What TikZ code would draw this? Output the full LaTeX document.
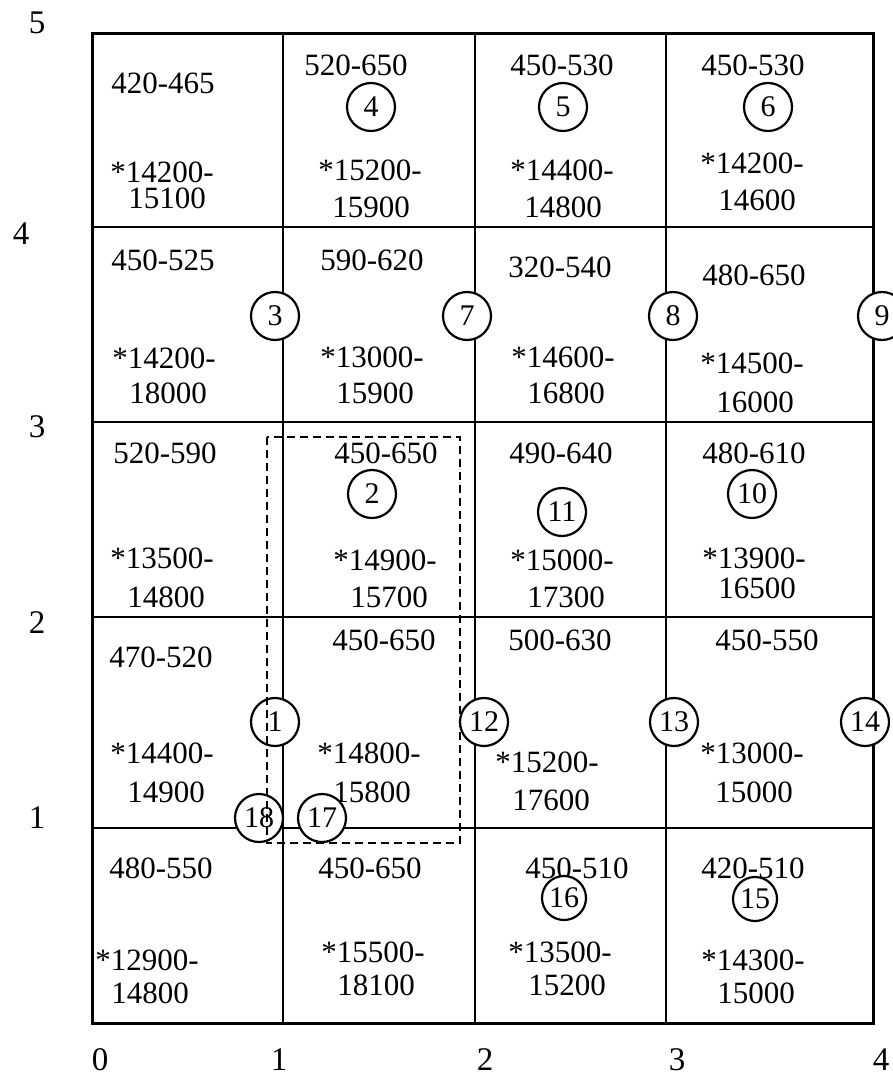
\documentclass[tikz,border=0pt]{standalone}
\usepackage{fontspec}
\setmainfont{Liberation Serif}
\begin{document}
\begin{tikzpicture}[x=1pt,y=-1pt,
  txt/.style={anchor=base,inner sep=0pt,font=\fontsize{31}{36}\selectfont},
  axl/.style={anchor=base,inner sep=0pt,font=\fontsize{33}{38}\selectfont},
  circ/.style={draw,circle,fill=white,line width=2.2pt,minimum size=48pt,inner sep=0pt,font=\fontsize{30}{34}\selectfont},
  grid/.style={line width=2.5pt},
  border/.style={line width=3pt},
  dashbox/.style={line width=2.2pt,dash pattern=on 8pt off 5pt}]
\useasboundingbox (0,0) rectangle (893,1076);
% grid
\draw[grid] (283,33) -- (283,1023) (475,33) -- (475,1023) (666,33) -- (666,1023);
\draw[grid] (92,227) -- (873,227) (92,422) -- (873,422) (92,617) -- (873,617) (92,828) -- (873,828);
\draw[border] (92,33) rectangle (873,1023);
% axis labels
\node[axl] (y5) at (37,33) {5};
\node[axl] (y4) at (21,244) {4};
\node[axl] (y3) at (37,437) {3};
\node[axl] (y2) at (37,633) {2};
\node[axl] (y1) at (37,828) {1};
\node[axl] (x0) at (100,1070) {0};
\node[axl] (x1) at (279,1070) {1};
\node[axl] (x2) at (485,1070) {2};
\node[axl] (x3) at (677,1070) {3};
\node[axl] (x4) at (881,1070) {4};
% row 5
\node[txt] (a1) at (163,93) {420-465};
\node[txt] (a2) at (162,182) {*14200-};
\node[txt] (a3) at (167,208) {15100};
\node[txt] (b1) at (356,75) {520-650};
\node[txt] (b2) at (370,180) {*15200-};
\node[txt] (b3) at (371,217) {15900};
\node[txt] (c1) at (562,75) {450-530};
\node[txt] (c2) at (562,180) {*14400-};
\node[txt] (c3) at (563,217) {14800};
\node[txt] (d1) at (753,75) {450-530};
\node[txt] (d2) at (752,173) {*14200-};
\node[txt] (d3) at (757,210) {14600};
% row 4
\node[txt] (e1) at (163,270) {450-525};
\node[txt] (e2) at (164,368) {*14200-};
\node[txt] (e3) at (168,403) {18000};
\node[txt] (f1) at (372,270) {590-620};
\node[txt] (f2) at (372,367) {*13000-};
\node[txt] (f3) at (375,403) {15900};
\node[txt] (g1) at (560,277) {320-540};
\node[txt] (g2) at (563,367) {*14600-};
\node[txt] (g3) at (566,403) {16800};
\node[txt] (h1) at (754,285) {480-650};
\node[txt] (h2) at (752,373) {*14500-};
\node[txt] (h3) at (755,412) {16000};
% row 3
\node[txt] (i1) at (165,463) {520-590};
\node[txt] (i2) at (162,568) {*13500-};
\node[txt] (i3) at (166,607) {14800};
\node[txt] (j1) at (386,463) {450-650};
\node[txt] (j2) at (385,570) {*14900-};
\node[txt] (j3) at (389,607) {15700};
\node[txt] (k1) at (561,463) {490-640};
\node[txt] (k2) at (562,570) {*15000-};
\node[txt] (k3) at (566,607) {17300};
\node[txt] (l1) at (754,463) {480-610};
\node[txt] (l2) at (754,568) {*13900-};
\node[txt] (l3) at (757,598) {16500};
% row 2
\node[txt] (m1) at (161,667) {470-520};
\node[txt] (m2) at (162,763) {*14400-};
\node[txt] (m3) at (166,802) {14900};
\node[txt] (n1) at (384,650) {450-650};
\node[txt] (n2) at (369,763) {*14800-};
\node[txt] (n3) at (372,802) {15800};
\node[txt] (o1) at (560,650) {500-630};
\node[txt] (o2) at (547,772) {*15200-};
\node[txt] (o3) at (551,810) {17600};
\node[txt] (p1) at (767,650) {450-550};
\node[txt] (p2) at (752,763) {*13000-};
\node[txt] (p3) at (754,802) {15000};
% row 1
\node[txt] (q1) at (161,878) {480-550};
\node[txt] (q2) at (147,970) {*12900-};
\node[txt] (q3) at (150,1003) {14800};
\node[txt] (r1) at (370,878) {450-650};
\node[txt] (r2) at (373,962) {*15500-};
\node[txt] (r3) at (376,995) {18100};
\node[txt] (s1) at (577,878) {450-510};
\node[txt] (s2) at (560,962) {*13500-};
\node[txt] (s3) at (567,995) {15200};
\node[txt] (t1) at (753,878) {420-510};
\node[txt] (t2) at (753,970) {*14300-};
\node[txt] (t3) at (756,1003) {15000};
% circles
\node[circ] (n4) at (371,107) {4};
\node[circ] (n5) at (563,107) {5};
\node[circ] (n6) at (768,107) {6};
\node[circ] (n3) at (275,316) {3};
\node[circ] (n7) at (467,316) {7};
\node[circ] (n8) at (673,316) {8};
\node[circ] (n9) at (882,316) {9};
\node[circ] (n2) at (372,494) {2};
\node[circ] (n11) at (562,512) {11};
\node[circ] (n10) at (752,494) {10};
\node[circ] (n1) at (275,722) {1};
\node[circ] (n12) at (484,722) {12};
\node[circ] (n13) at (674,722) {13};
\node[circ] (n14) at (865,722) {14};
\node[circ] (n18) at (259,818) {18};
\node[circ] (n17) at (322,818) {17};
\node[circ,minimum size=44pt] (n16) at (564,898) {16};
\node[circ,minimum size=44pt] (n15) at (755,899) {15};
% dashed frame
\draw[dashbox] (267,437) rectangle (460,843);
\end{tikzpicture}
\end{document}
